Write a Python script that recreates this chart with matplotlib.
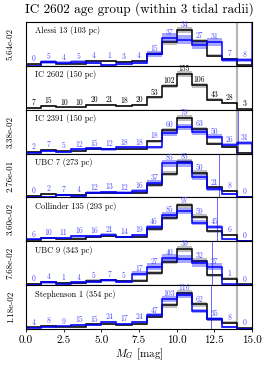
import matplotlib
matplotlib.use("Agg")
import matplotlib.pyplot as plt
import numpy as np

plt.rcParams["font.family"] = ["cmr10", "DejaVu Serif"]
plt.rcParams["mathtext.fontset"] = "cm"
plt.rcParams["axes.formatter.use_mathtext"] = True

edges = np.arange(0, 16, 1)

ref_name = "IC 2602 (150 pc)"
ref_counts = [7, 15, 10, 10, 20, 21, 18, 20, 53, 102, 155, 106, 43, 28, 3]

names = [
    "Alessi 13 (103 pc)",
    "IC 2602 (150 pc)",
    "IC 2391 (150 pc)",
    "UBC 7 (273 pc)",
    "Collinder 135 (293 pc)",
    "UBC 9 (343 pc)",
    "Stephenson 1 (354 pc)",
]
counts = [
    [0, 5, 4, 5, 4, 1, 3, 4, 15, 37, 34, 27, 31, 7, 8],
    ref_counts,
    [2, 7, 5, 12, 15, 12, 18, 18, 18, 60, 79, 63, 50, 26, 31],
    [0, 2, 7, 4, 12, 13, 12, 16, 37, 85, 85, 50, 21, 8, 0],
    [6, 10, 11, 16, 16, 21, 14, 19, 46, 85, 97, 59, 45, 6, 0],
    [0, 4, 1, 4, 5, 7, 5, 17, 27, 40, 39, 32, 27, 1, 0],
    [4, 8, 9, 15, 15, 24, 17, 24, 47, 103, 116, 62, 35, 8, 0],
]
ylabels = ["5.64e-02", "", "3.38e-02", "2.76e-01", "3.60e-02", "7.68e-02", "1.18e-02"]
mag_limits = [14.9, None, 14.05, 12.8, 12.65, 12.35, 12.3]
ref_limit = 14.0


def norm(c):
    c = np.array(c, dtype=float)
    tot = c.sum()
    return c / tot, np.sqrt(c) / tot


fig = plt.figure(figsize=(2.74, 3.66), dpi=100)
left, width = 0.095, 0.825
top, bottom = 0.940, 0.101
h = (top - bottom) / len(names)

ref_f, ref_e = norm(ref_counts)
axes = []
for i, (name, c) in enumerate(zip(names, counts)):
    ax = fig.add_axes([left, top - (i + 1) * h, width, h])
    axes.append(ax)
    f, e = norm(c)
    is_ref = name == ref_name

    # reference cluster (black) with error band
    ax.stairs(ref_f + ref_e, edges, baseline=ref_f - ref_e, fill=True,
              color="k", alpha=0.25, lw=0)
    ax.stairs(ref_f, edges, color="k", lw=1.1)
    if not is_ref:
        ax.stairs(f + e, edges, baseline=f - e, fill=True,
                  color="b", alpha=0.35, lw=0)
        ax.stairs(f, edges, color="b", lw=1.1)

    ax.axvline(ref_limit, color="0.72", lw=1.6, zorder=0)
    if mag_limits[i] is not None:
        ax.axvline(mag_limits[i], color="b", lw=0.7, alpha=0.6)

    centers = 0.5 * (edges[1:] + edges[:-1])
    tcol = "k" if is_ref else (0.3, 0.3, 1.0)
    for x, n, y1, y2 in zip(centers, c, f, ref_f):
        y = y1 if is_ref else max(y1, y2)
        ax.text(x, y + 0.006, str(n), fontsize=5.5, color=tcol,
                ha="center", va="bottom")

    ax.text(0.04, 0.9, name, transform=ax.transAxes, fontsize=6,
            ha="left", va="top")
    ax.set_xlim(0, 15)
    ax.set_ylim(0, 0.31)
    ax.set_yticks([])
    ax.set_ylabel(ylabels[i], fontsize=6.5)
    ax.yaxis.set_label_coords(-0.05, 0.5)
    ax.tick_params(axis="x", length=2.5, width=0.6, labelsize=8, pad=2)
    for s in ax.spines.values():
        s.set_linewidth(0.8)
    if i < len(names) - 1:
        ax.set_xticklabels([])
        ax.tick_params(axis="x", length=0)

axes[-1].set_xticks([0, 2.5, 5, 7.5, 10, 12.5, 15])
axes[-1].set_xticklabels(["0.0", "2.5", "5.0", "7.5", "10.0", "12.5", "15.0"])
axes[-1].set_xlabel(r"$M_G$ [mag]", fontsize=8, labelpad=1)
fig.text(left + width / 2, 0.955, "IC 2602 age group (within 3 tidal radii)",
         fontsize=9.5, ha="center", va="bottom")

fig.savefig("out.png", dpi=100)
